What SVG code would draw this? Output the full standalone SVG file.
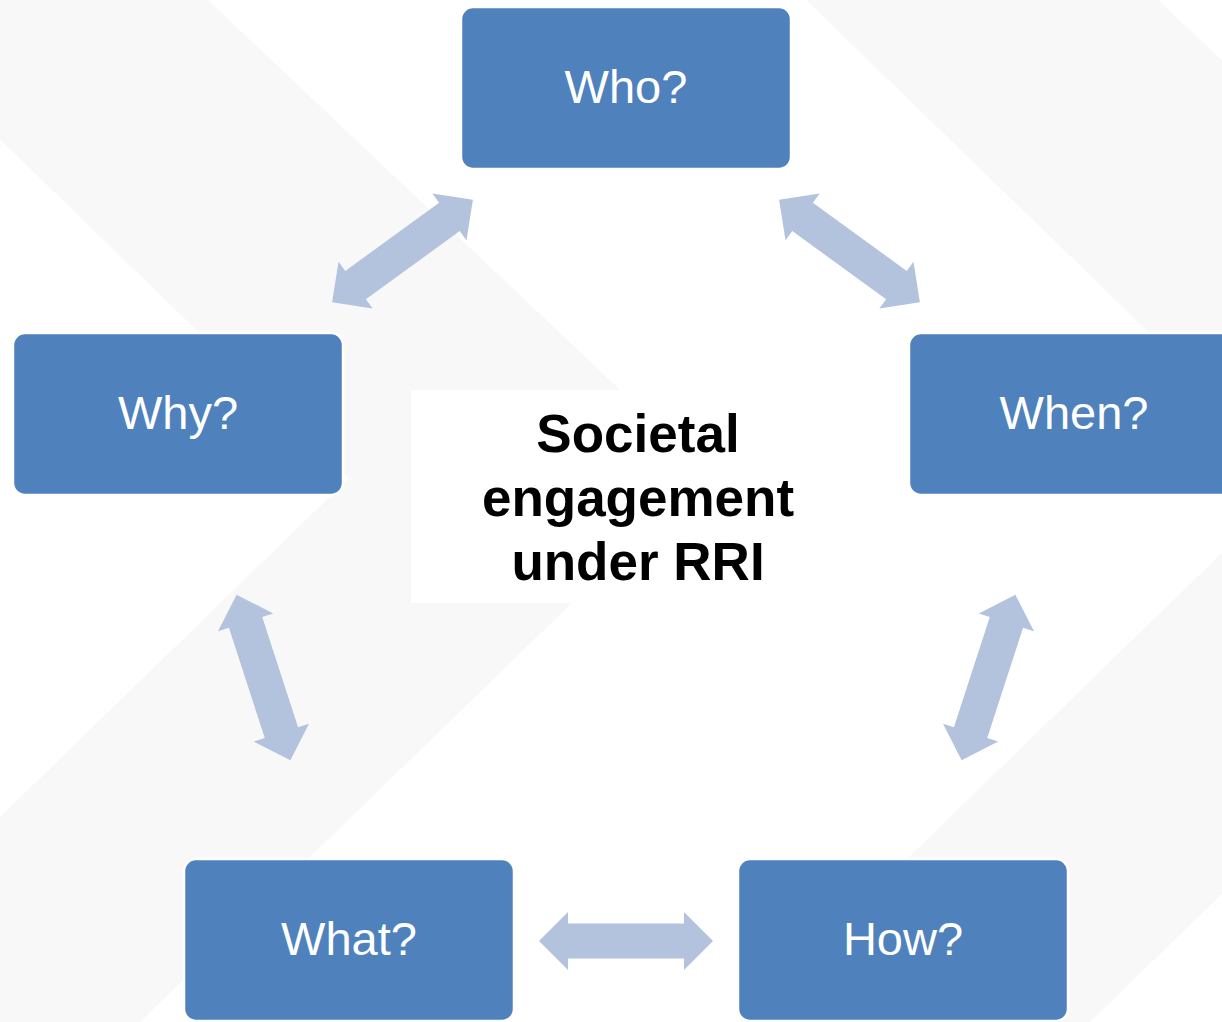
<svg xmlns="http://www.w3.org/2000/svg" xmlns:xlink="http://www.w3.org/1999/xlink" width="1222" height="1022" viewBox="0 0 1222 1022">
  <style>
    .bg { fill: #f8f8f8; }
    .node rect { fill: #4f81bd; stroke: #ffffff; stroke-width: 2.5; }
    .node text { font-family: "Liberation Sans", Arial, sans-serif; font-size: 47px; fill: #ffffff; text-anchor: middle; }
    .arrow { fill: #b3c2dd; }
    .label { font-family: "Liberation Sans", Arial, sans-serif; font-size: 53px; font-weight: bold; fill: #000000; text-anchor: middle; }
  </style>
  <defs>
    <path id="dbl" d="M -87 0 L -58 -29 L -58 -17.5 L 58 -17.5 L 58 -29 L 87 0 L 58 29 L 58 17.5 L -58 17.5 L -58 29 Z"/>
  </defs>
  <rect x="0" y="0" width="1222" height="1022" fill="#ffffff"/>
  <g id="background">
    <polygon class="bg" points="-144,0 208,0 707,472 140,1022 -211,1022 349,478"/>
    <polygon class="bg" points="806,0 1158,0 1657,472 1090,1022 739,1022 1299,478"/>
  </g>
  <g id="center">
    <rect x="411" y="390" width="454" height="213" fill="#ffffff"/>
    <text class="label" x="638" y="452">Societal</text>
    <text class="label" x="638" y="516">engagement</text>
    <text class="label" x="638" y="580">under RRI</text>
  </g>
  <g id="connectors">
    <use class="arrow" xlink:href="#dbl" href="#dbl" transform="translate(402.5,251) rotate(-36)"/>
    <use class="arrow" xlink:href="#dbl" href="#dbl" transform="translate(849.5,251) rotate(36)"/>
    <use class="arrow" xlink:href="#dbl" href="#dbl" transform="translate(263.5,677.5) rotate(72)"/>
    <use class="arrow" xlink:href="#dbl" href="#dbl" transform="translate(988.5,677.5) rotate(-72)"/>
    <use class="arrow" xlink:href="#dbl" href="#dbl" transform="translate(626,941)"/>
  </g>
  <g id="who" class="node">
    <rect x="461" y="7" width="330" height="162" rx="12"/>
    <text x="626" y="103">Who?</text>
  </g>
  <g id="why" class="node">
    <rect x="13" y="333" width="330" height="162" rx="12"/>
    <text x="178" y="429">Why?</text>
  </g>
  <g id="when" class="node">
    <rect x="909" y="333" width="330" height="162" rx="12"/>
    <text x="1074" y="429">When?</text>
  </g>
  <g id="what" class="node">
    <rect x="184" y="859" width="330" height="162" rx="12"/>
    <text x="349" y="955">What?</text>
  </g>
  <g id="how" class="node">
    <rect x="738" y="859" width="330" height="162" rx="12"/>
    <text x="903" y="955">How?</text>
  </g>
</svg>
